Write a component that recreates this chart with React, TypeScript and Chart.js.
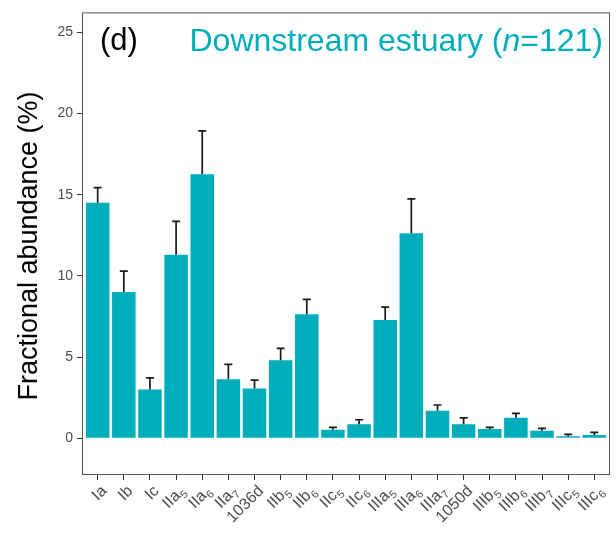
import React, { useEffect, useRef } from "react";
import { Chart, registerables } from "chart.js";

Chart.register(...registerables);

// GDGT compound groups (main label + subscript)
const labels = ["Ia", "Ib", "Ic", "IIa", "IIa", "IIa", "1036d", "IIb", "IIb", "IIc", "IIc", "IIIa", "IIIa", "IIIa", "1050d", "IIIb", "IIIb", "IIIb", "IIIc", "IIIc"];
const subscripts = ["", "", "", "5", "6", "7", "", "5", "6", "5", "6", "5", "6", "7", "", "5", "6", "7", "5", "6"];

// Mean fractional abundance (%) and standard error
const means = [14.5, 9.0, 3.0, 11.3, 16.25, 3.64, 3.07, 4.8, 7.64, 0.53, 0.87, 7.28, 12.62, 1.69, 0.87, 0.57, 1.26, 0.47, 0.12, 0.2];
const errors = [0.93, 1.29, 0.72, 2.05, 2.67, 0.91, 0.51, 0.73, 0.91, 0.14, 0.27, 0.79, 2.12, 0.36, 0.39, 0.1, 0.28, 0.14, 0.12, 0.17];

const yTicks = [0, 5, 10, 15, 20, 25];

const panelLabel = "(d)";
const titleParts = ["Downstream estuary (", "n", "=121)"];
const yTitle = "Fractional abundance (%)";

const FONT = "'Liberation Sans', Arial, Helvetica, sans-serif";
const BAR_COLOR = "#00AEBB";

const errorBarPlugin = {
  id: "errorBars",
  afterDatasetsDraw(chart: any) {
    const { ctx } = chart;
    const meta = chart.getDatasetMeta(0);
    const yScale = chart.scales.y;
    ctx.save();
    ctx.strokeStyle = "#1a1a1a";
    ctx.lineWidth = 1.7;
    meta.data.forEach((bar: any, i: number) => {
      const x = bar.x;
      const yTop = yScale.getPixelForValue(means[i] + errors[i]);
      const yMean = yScale.getPixelForValue(means[i]);
      ctx.beginPath();
      ctx.moveTo(x, yMean);
      ctx.lineTo(x, yTop);
      ctx.moveTo(x - 4, yTop);
      ctx.lineTo(x + 4, yTop);
      ctx.stroke();
    });
    ctx.restore();
  },
};

const decorPlugin = {
  id: "decor",
  afterDraw(chart: any) {
    const { ctx, chartArea } = chart;
    const xScale = chart.scales.x;
    ctx.save();

    // panel frame
    ctx.strokeStyle = "#555555";
    ctx.lineWidth = 1;
    ctx.strokeRect(chartArea.left + 0.5, chartArea.top + 0.5, chartArea.right - chartArea.left - 1, chartArea.bottom - chartArea.top - 1);

    // rotated category labels with subscripts
    ctx.fillStyle = "#4d4d4d";
    ctx.textBaseline = "top";
    ctx.textAlign = "left";
    labels.forEach((lab, i) => {
      const x = xScale.getPixelForValue(i);
      const y = chartArea.bottom + 8;
      ctx.save();
      ctx.translate(x + 1, y);
      ctx.rotate(-Math.PI / 4);
      ctx.font = `16px ${FONT}`;
      const wm = ctx.measureText(lab).width;
      ctx.font = `11px ${FONT}`;
      const ws = subscripts[i] ? ctx.measureText(subscripts[i]).width + 0.5 : 0;
      ctx.font = `16px ${FONT}`;
      ctx.fillText(lab, -(wm + ws), 0);
      if (subscripts[i]) {
        ctx.font = `11px ${FONT}`;
        ctx.fillText(subscripts[i], -ws + 0.5, 8);
      }
      ctx.restore();
    });

    // y-axis title
    ctx.save();
    ctx.translate(30, 246);
    ctx.rotate(-Math.PI / 2);
    ctx.font = `27px ${FONT}`;
    ctx.fillStyle = "#000000";
    ctx.textAlign = "center";
    ctx.textBaseline = "middle";
    ctx.fillText(yTitle, 0, 0);
    ctx.restore();

    // panel label
    ctx.font = `31px ${FONT}`;
    ctx.fillStyle = "#000000";
    ctx.textAlign = "left";
    ctx.textBaseline = "alphabetic";
    ctx.fillText(panelLabel, 100, 50);

    // group title, right aligned, italic n
    const normal = `32px ${FONT}`;
    const italic = `italic 32px ${FONT}`;
    const fonts = [normal, italic, normal];
    const widths = titleParts.map((t, k) => {
      ctx.font = fonts[k];
      return ctx.measureText(t).width;
    });
    let tx = 603 - widths.reduce((a, b) => a + b, 0);
    ctx.fillStyle = BAR_COLOR;
    titleParts.forEach((t, k) => {
      ctx.font = fonts[k];
      ctx.fillText(t, tx, 51);
      tx += widths[k];
    });

    ctx.restore();
  },
};

export default function App() {
  const canvasRef = useRef<HTMLCanvasElement | null>(null);

  useEffect(() => {
    document.body.style.margin = "0";
    const canvas = canvasRef.current;
    if (!canvas) return;
    const chart = new Chart(canvas, {
      type: "bar",
      data: {
        datasets: [
          {
            data: means.map((v, i) => ({ x: i, y: v })),
            backgroundColor: BAR_COLOR,
            borderWidth: 0,
            barPercentage: 0.9,
            categoryPercentage: 1,
          },
        ],
      },
      options: {
        animation: false,
        responsive: false,
        devicePixelRatio: 1,
        layout: { padding: { top: 8, right: 6, left: 0, bottom: 0 } },
        plugins: { legend: { display: false }, tooltip: { enabled: false } },
        scales: {
          x: {
            type: "linear",
            offset: false,
            min: -0.6,
            max: labels.length - 1 + 0.6,
            afterBuildTicks: (scale: any) => {
              scale.ticks = labels.map((_, i) => ({ value: i }));
            },
            afterFit: (scale: any) => {
              scale.height = 61;
            },
            ticks: { display: false },
            grid: { display: true, offset: false, drawOnChartArea: false, drawTicks: true, tickLength: 5, color: "#333333" },
            border: { display: false },
          },
          y: {
            type: "linear",
            min: -2.26,
            max: 26.22,
            afterBuildTicks: (scale: any) => {
              scale.ticks = yTicks.map((v) => ({ value: v }));
            },
            afterFit: (scale: any) => {
              scale.width = 82;
            },
            ticks: {
              font: { family: FONT, size: 14 },
              color: "#4d4d4d",
              padding: 4,
            },
            grid: { display: true, drawOnChartArea: false, drawTicks: true, tickLength: 5, color: "#333333" },
            border: { display: false },
          },
        },
      },
      plugins: [errorBarPlugin, decorPlugin],
    });
    return () => chart.destroy();
  }, []);

  return (
    <div style={{ width: 616, height: 536 }}>
      <canvas ref={canvasRef} width={616} height={536} />
    </div>
  );
}
